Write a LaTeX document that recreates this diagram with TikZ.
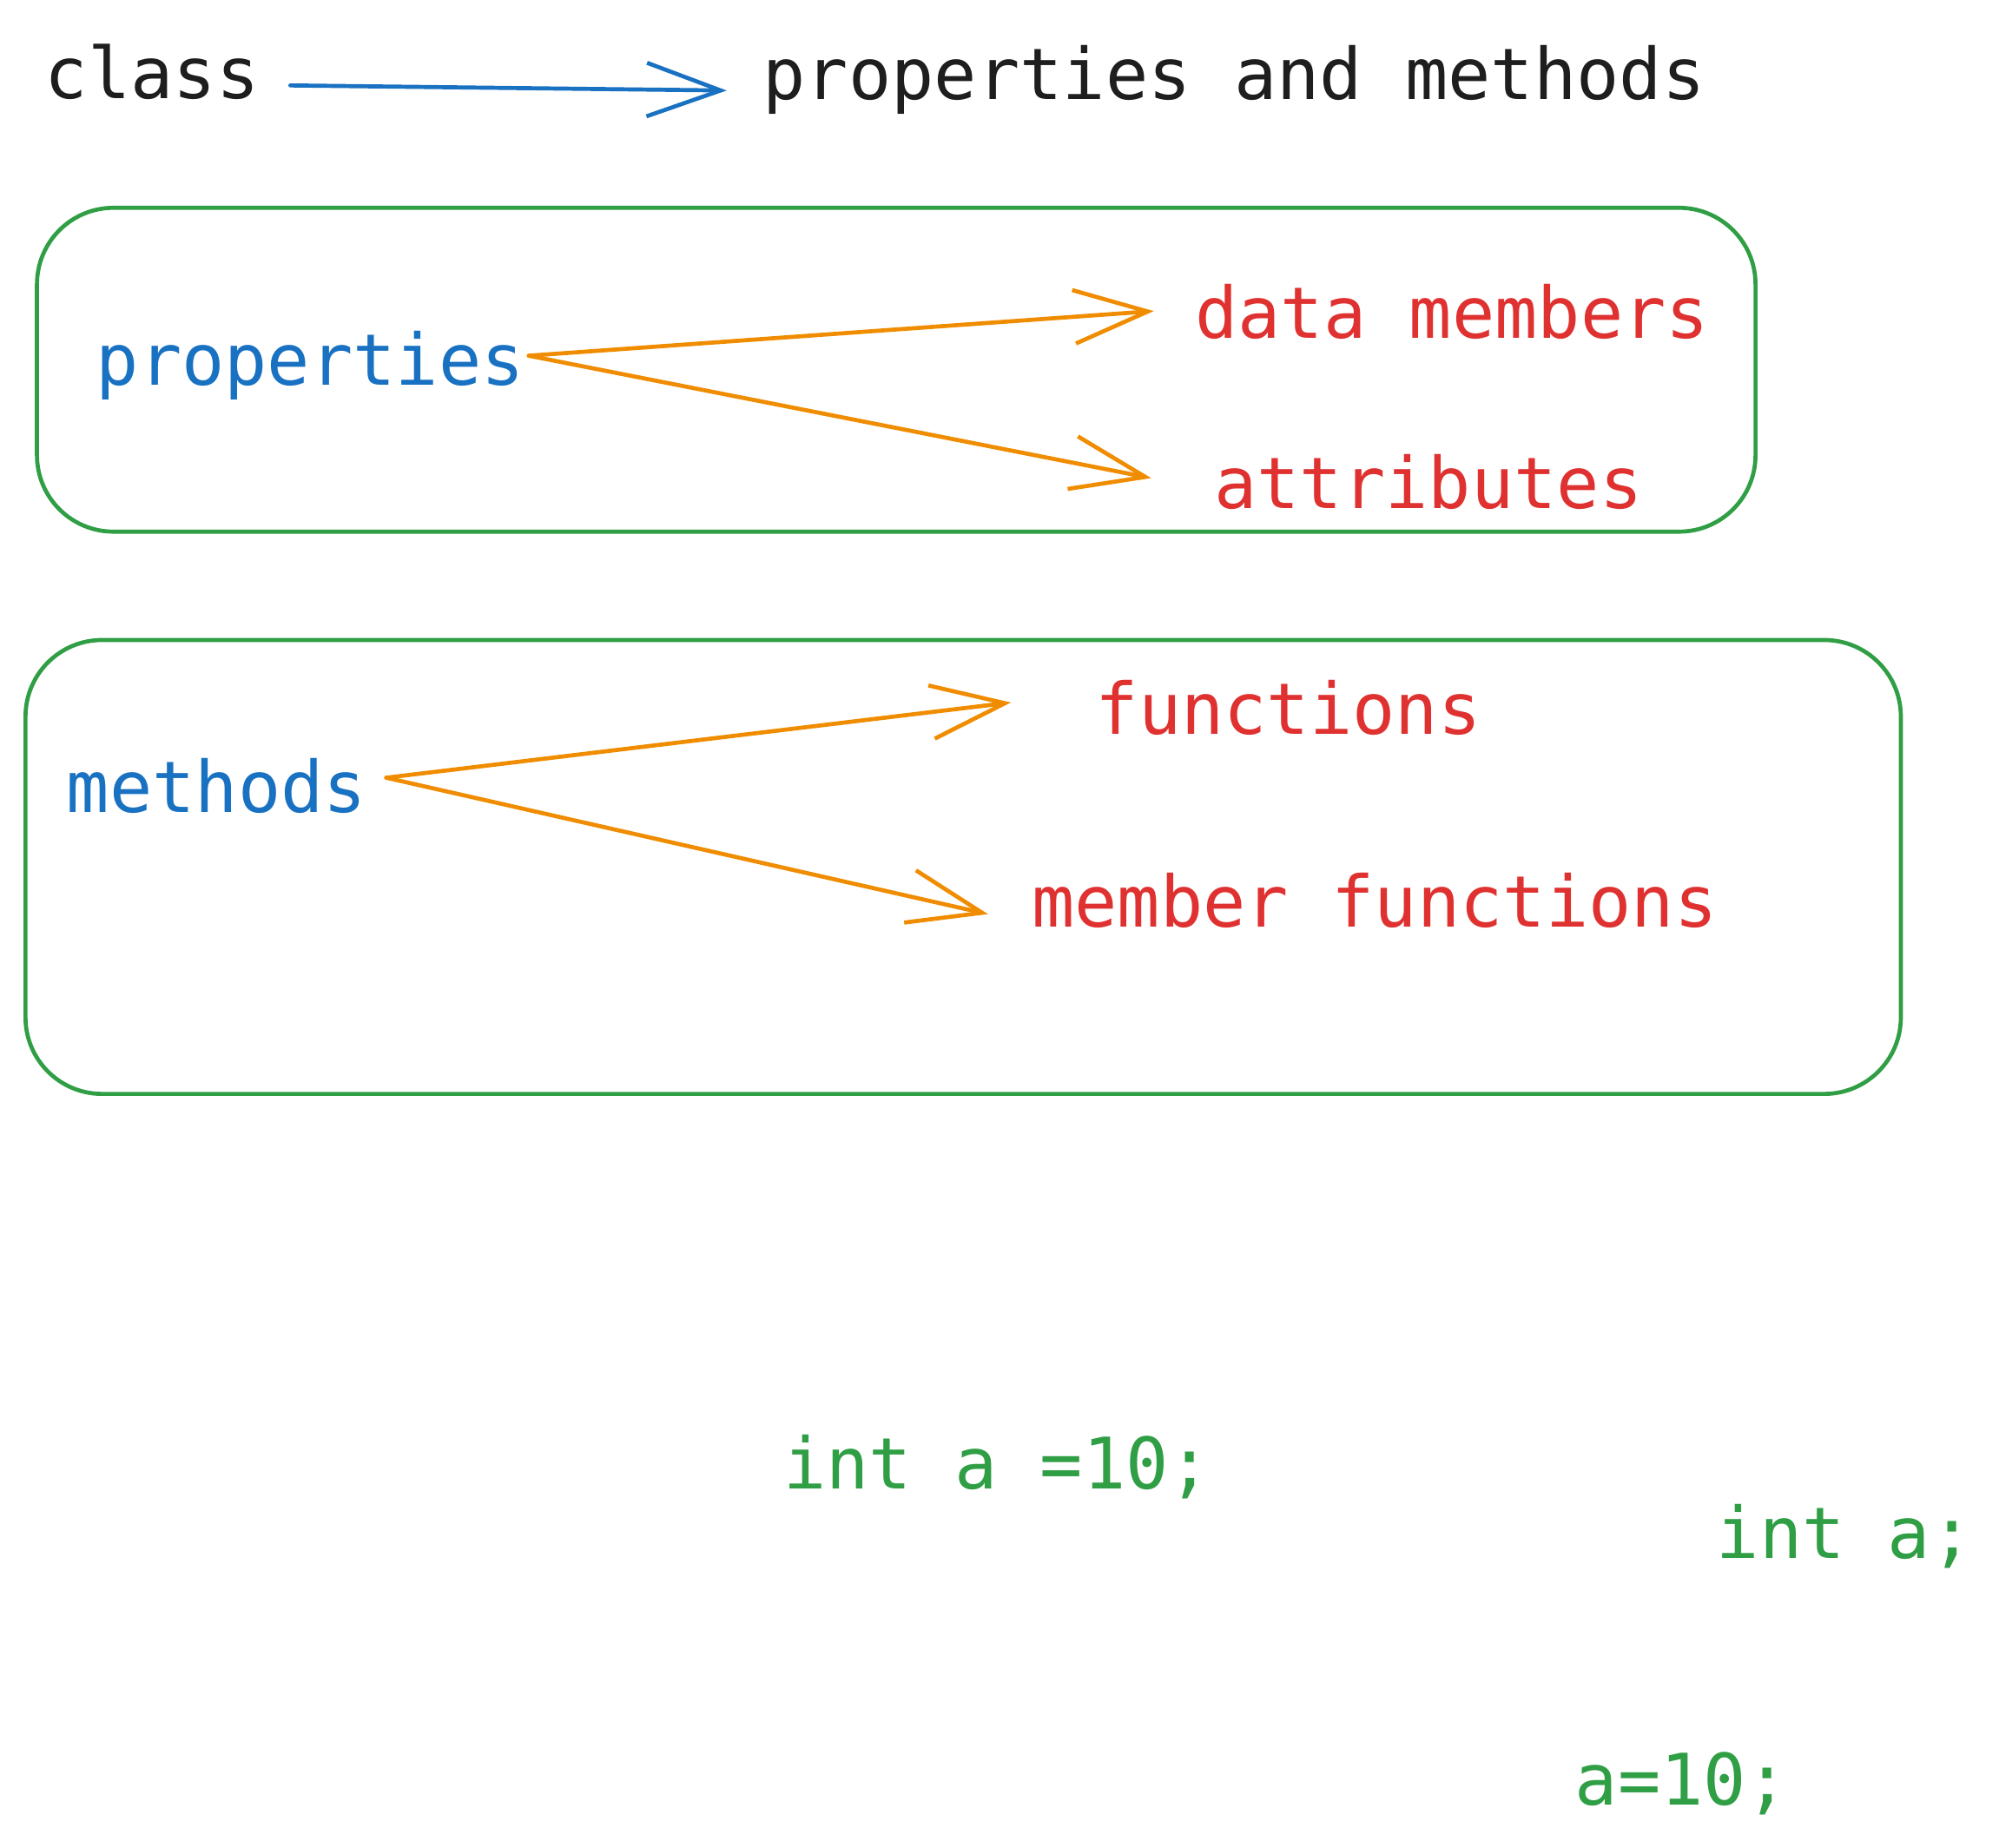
\documentclass[tikz,border=0pt]{standalone}
\usepackage{fontspec}
\setmonofont{DejaVu Sans Mono}
\usetikzlibrary{arrows.meta}
\definecolor{sketchInk}{HTML}{1E1E1E}
\definecolor{sketchBlue}{HTML}{1971C2}
\definecolor{sketchGreen}{HTML}{2F9E44}
\definecolor{sketchOrange}{HTML}{F08C00}
\definecolor{sketchRed}{HTML}{E03131}

\begin{document}
\begin{tikzpicture}[x=0.5pt,y=-0.5pt,
  lbl/.style={anchor=base west,inner sep=0pt,font=\ttfamily\fontsize{27.9}{33}\selectfont},
  grp/.style={draw=sketchGreen,line width=1.6pt,rounded corners=30pt},
  sk/.style={line width=1.6pt,line cap=round,line join=round,
    -{Straight Barb[length=29pt,width=21pt,line width=1.6pt]}}]
\useasboundingbox (0,0) rectangle (1568,1449);

% header line
\node[lbl,text=sketchInk] (cls) at (35,77) {class};
\node[lbl,text=sketchInk] (pam) at (598,78) {properties and methods};
\draw[sk,sketchBlue] ([shift={(24,-10)}]cls.base east) -- ([shift={(-28,-7)}]pam.base west);

% properties group
\draw[grp] (29,163) rectangle (1377,417);
\node[lbl,text=sketchBlue] (props) at (75,302) {properties};
\node[lbl,text=sketchRed] (data) at (937,265) {data members};
\node[lbl,text=sketchRed] (attr) at (952,399) {attributes};
\draw[sk,sketchOrange] ([shift={(3,-23)}]props.base east) -- ([shift={(-32,-21)}]data.base west);
\draw[sk,sketchOrange] ([shift={(3,-23)}]props.base east) -- ([shift={(-49,-24)}]attr.base west);

% methods group
\draw[grp] (20,502) rectangle (1491,858);
\node[lbl,text=sketchBlue] (meth) at (52,637) {methods};
\node[lbl,text=sketchRed] (func) at (859,576) {functions};
\node[lbl,text=sketchRed] (mfunc) at (809,727) {member functions};
\draw[sk,sketchOrange] ([shift={(15,-27)}]meth.base east) -- ([shift={(-66,-25)}]func.base west);
\draw[sk,sketchOrange] ([shift={(15,-27)}]meth.base east) -- ([shift={(-34,-10)}]mfunc.base west);

% code
\node[lbl,text=sketchGreen] (init) at (614,1168) {int a =10;};
\node[lbl,text=sketchGreen] (decl) at (1346,1222) {int a;};
\node[lbl,text=sketchGreen] (assign) at (1235,1416) {a=10;};
\end{tikzpicture}
\end{document}
